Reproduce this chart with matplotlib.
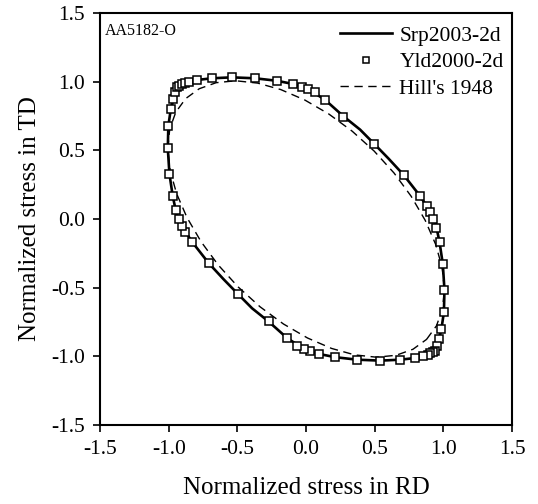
import matplotlib
matplotlib.use("Agg")
import matplotlib.pyplot as plt

plt.rcParams["font.family"] = ["Liberation Serif", "DejaVu Serif"]

# Yld2000-2d predictions (squares)
yld_x = [-0.971, -0.995, -1.007, -1.003, -0.985, -0.966, -0.954, -0.937, -0.922, -0.905,
         -0.885, -0.852, -0.792, -0.687, -0.541, -0.371, -0.213, -0.092, -0.031, 0.017,
         0.066, 0.138, 0.272, 0.495, 0.709, 0.830, 0.883, 0.903, 0.923, 0.944,
         0.971, 0.995, 1.007, 1.003, 0.985, 0.966, 0.954, 0.937, 0.922, 0.905,
         0.885, 0.852, 0.792, 0.687, 0.541, 0.371, 0.213, 0.092, 0.031, -0.017,
         -0.066, -0.138, -0.272, -0.495, -0.709, -0.830, -0.883, -0.903, -0.923, -0.944]
yld_y = [0.167, 0.328, 0.515, 0.679, 0.801, 0.876, 0.925, 0.959, 0.970, 0.980,
         0.988, 0.997, 1.012, 1.025, 1.032, 1.025, 1.007, 0.983, 0.963, 0.944,
         0.927, 0.866, 0.745, 0.546, 0.320, 0.167, 0.095, 0.053, -0.002, -0.063,
         -0.167, -0.328, -0.515, -0.679, -0.801, -0.876, -0.925, -0.959, -0.970, -0.980,
         -0.988, -0.997, -1.012, -1.025, -1.032, -1.025, -1.007, -0.983, -0.963, -0.944,
         -0.927, -0.866, -0.745, -0.546, -0.320, -0.167, -0.095, -0.053, 0.002, 0.063]

# Srp2003-2d (solid line)
srp_x = [-0.947, -0.971, -0.995, -1.007, -1.003, -0.985, -0.966, -0.945, -0.920, -0.885,
         -0.852, -0.792, -0.687, -0.541, -0.371, -0.213, -0.092, 0.017, 0.138, 0.272,
         0.393, 0.495, 0.600, 0.709, 0.830, 0.903, 0.937,
         0.947, 0.971, 0.995, 1.007, 1.003, 0.985, 0.966, 0.945, 0.920, 0.885,
         0.852, 0.792, 0.687, 0.541, 0.371, 0.213, 0.092, -0.017, -0.138, -0.272,
         -0.393, -0.495, -0.600, -0.709, -0.830, -0.903, -0.937, -0.947]
srp_y = [0.053, 0.167, 0.328, 0.515, 0.679, 0.801, 0.876, 0.940, 0.972, 0.990,
         1.000, 1.013, 1.025, 1.032, 1.025, 1.007, 0.983, 0.946, 0.868, 0.748,
         0.651, 0.548, 0.440, 0.322, 0.167, 0.055, -0.010,
         -0.053, -0.167, -0.328, -0.515, -0.679, -0.801, -0.876, -0.940, -0.972, -0.990,
         -1.000, -1.013, -1.025, -1.032, -1.025, -1.007, -0.983, -0.946, -0.868, -0.748,
         -0.651, -0.548, -0.440, -0.322, -0.167, -0.055, 0.010, 0.053]

# Hill's 1948 (dashed line)
hill_x = [0.877, 0.949, 0.993, 1.007, 0.990, 0.943, 0.867, 0.765, 0.640, 0.495,
          0.335, 0.165, -0.010, -0.185, -0.353, -0.512, -0.655, -0.778, -0.877,
          -0.949, -0.993, -1.007, -0.990, -0.943, -0.867, -0.765, -0.640, -0.495,
          -0.335, -0.165, 0.010, 0.185, 0.353, 0.512, 0.655, 0.778, 0.877]
hill_y = [-0.877, -0.778, -0.655, -0.512, -0.353, -0.185, -0.010, 0.165, 0.335, 0.495,
          0.640, 0.765, 0.867, 0.943, 0.990, 1.007, 0.993, 0.949, 0.877,
          0.778, 0.655, 0.512, 0.353, 0.185, 0.010, -0.165, -0.335, -0.495,
          -0.640, -0.765, -0.867, -0.943, -0.990, -1.007, -0.993, -0.949, -0.877]

ticks = [-1.5, -1.0, -0.5, 0.0, 0.5, 1.0, 1.5]
tick_labels = ["-1.5", "-1.0", "-0.5", "0.0", "0.5", "1.0", "1.5"]

fig = plt.figure(figsize=(5.38, 5.04), dpi=100)
ax = fig.add_axes([0.186, 0.157, 0.766, 0.817])

ax.plot(srp_x, srp_y, color="black", lw=1.9, label="Srp2003-2d", zorder=2)
ax.plot(yld_x, yld_y, ls="none", marker="s", ms=5.2, mfc="white", mec="black",
        mew=1.1, label="Yld2000-2d", zorder=3)
ax.plot(hill_x, hill_y, color="black", lw=1.0, dashes=(6, 4), label="Hill's 1948", zorder=1)

ax.set_xlim(-1.5, 1.5)
ax.set_ylim(-1.5, 1.5)
ax.set_xticks(ticks)
ax.set_xticklabels(tick_labels)
ax.set_yticks(ticks)
ax.set_yticklabels(tick_labels)
ax.tick_params(direction="out", length=5, width=1.2, labelsize=15.5, pad=6)
for s in ax.spines.values():
    s.set_linewidth(1.5)

ax.set_xlabel("Normalized stress in RD", fontsize=18, labelpad=13)
ax.set_ylabel("Normalized stress in TD", fontsize=18, labelpad=7)

ax.text(0.012, 0.975, "AA5182-O", transform=ax.transAxes, fontsize=11.5,
        ha="left", va="top")

ax.legend(loc="upper right", bbox_to_anchor=(1.0, 0.99), frameon=False,
          fontsize=15.5, handlelength=2.4, handletextpad=0.35,
          labelspacing=0.3, markerscale=0.8, borderaxespad=0.0)

fig.savefig("out.png", dpi=100)
